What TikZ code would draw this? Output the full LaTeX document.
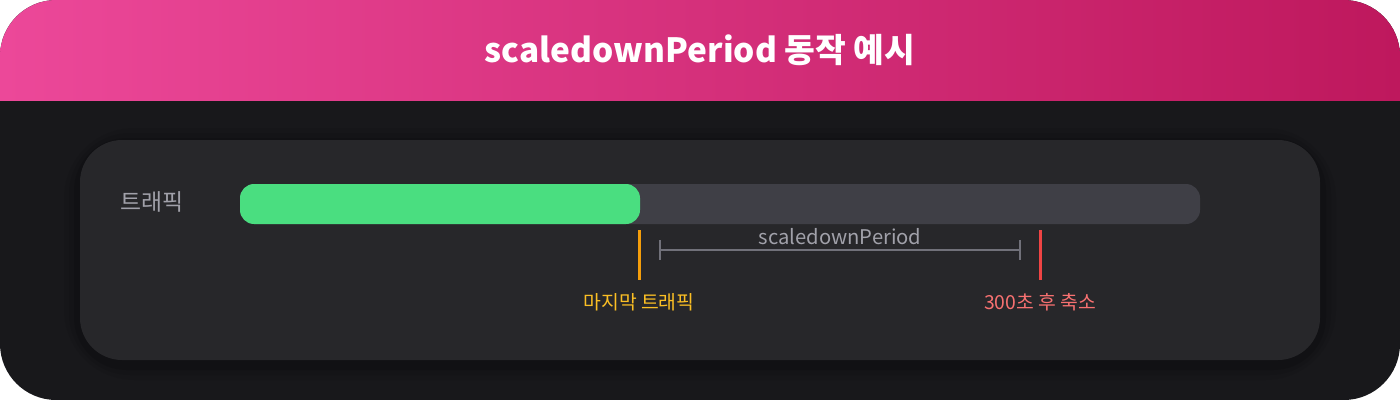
\documentclass[tikz,border=0pt]{standalone}
\usepackage{fontspec}
\usepackage{xcolor}
\usetikzlibrary{calc,positioning}
\newfontfamily\kr{Noto Sans CJK KR}
\definecolor{headL}{HTML}{EC4899}
\definecolor{headR}{HTML}{BE185D}
\definecolor{bodybg}{HTML}{18181B}
\definecolor{panel}{HTML}{27272A}
\definecolor{track}{HTML}{3F3F46}
\definecolor{fillgreen}{HTML}{4ADE80}
\definecolor{amber}{HTML}{F59E0B}
\definecolor{amberlab}{HTML}{FBBF24}
\definecolor{redmark}{HTML}{EF4444}
\definecolor{redlab}{HTML}{F87171}
\definecolor{muted}{HTML}{A1A1AA}
\definecolor{dimline}{HTML}{71717A}
\tikzset{
  title/.style={text=white, font=\kr\bfseries\fontsize{19}{22}\selectfont},
  lab/.style={text=muted, font=\kr\fontsize{13}{15}\selectfont},
  marker/.style={line width=1.7pt},
  marklab/.style={font=\kr\fontsize{11}{13}\selectfont},
  dim/.style={draw=dimline, line width=0.8pt},
}
\begin{document}
\begin{tikzpicture}[x=0.02cm, y=-0.02cm]
\useasboundingbox (0,0) rectangle (1400,400);
% card and header
\fill[white] (0,0) rectangle (1400,400);
\begin{scope}
\clip[rounded corners=32] (0,0) rectangle (1400,400);
\fill[bodybg] (0,0) rectangle (1400,400);
\shade[left color=headL, right color=headR] (0,0) rectangle (1400,100);
\end{scope}
\node[title] (head) at (700,50) {scaledownPeriod 동작 예시};

% panel with soft shadow
\foreach \d/\o in {16/0.06, 11/0.08, 6/0.12}
  \fill[black, opacity=\o, rounded corners=24+\d] (80-\d,140-\d+4) rectangle (1320+\d,360+\d+4);
\fill[panel, rounded corners=24] (80,140) rectangle (1320,360);

% traffic bar
\node[lab, anchor=west, inner sep=0pt] (traffic) at (120,202) {트래픽};
\fill[track, rounded corners=8] (240,184) rectangle (1200,224);
\fill[fillgreen, rounded corners=8] (240,184) rectangle (640,224);

% markers
\coordinate (lastA) at (639,230);
\coordinate (lastB) at (639,280);
\coordinate (downA) at (1040,230);
\coordinate (downB) at (1040,280);
\draw[marker, amber] (lastA) -- (lastB);
\draw[marker, redmark] (downA) -- (downB);
\node[marklab, text=amberlab] (lastlab) at (639,302) {마지막 트래픽};
\node[marklab, text=redlab] (downlab) at (1040,302) {300초 후 축소};

% scaledown period
\coordinate (perA) at (660,250);
\coordinate (perB) at (1020,250);
\draw[dim] (perA) -- (perB);
\draw[dim] ($(perA)+(0,-10)$) -- ($(perA)+(0,10)$);
\draw[dim] ($(perB)+(0,-10)$) -- ($(perB)+(0,10)$);
\node[lab, font=\kr\fontsize{11.5}{13}\selectfont] (perlab) at (840,237) {scaledownPeriod};
\end{tikzpicture}
\end{document}
